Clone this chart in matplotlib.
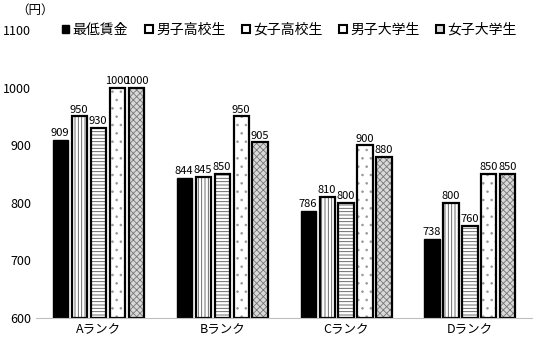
import numpy as np
import matplotlib
matplotlib.use("Agg")
import matplotlib.pyplot as plt
from matplotlib.patches import Patch

plt.rcParams['font.family'] = ['Noto Sans CJK JP', 'DejaVu Sans']
plt.rcParams['hatch.linewidth'] = 0.6

categories = ["Aランク", "Bランク", "Cランク", "Dランク"]
series = ["最低賃金", "男子高校生", "女子高校生", "男子大学生", "女子大学生"]
values = [
    [909, 844, 786, 738],
    [950, 845, 810, 800],
    [930, 850, 800, 760],
    [1000, 950, 900, 850],
    [1000, 905, 880, 850],
]

faces = ["black", "white", "white", "white", "#d9d9d9"]
hatches = [None, "|||||", "-----", "..", "xxxxx"]
hatch_colors = ["black", "#555555", "#555555", "#999999", "#777777"]

fig = plt.figure(figsize=(5.33, 3.42), dpi=100)
ax = fig.add_axes([0.068, 0.07, 0.93, 0.842])

x = np.arange(len(categories))
w = 0.122
step = 0.153
handles = []
for i, (name, vals) in enumerate(zip(series, values)):
    pos = x + (i - 2) * step
    if i == 0:
        ax.bar(pos, [v - 600 for v in vals], w, bottom=600,
               color="black", edgecolor="black")
        handles.append(Patch(facecolor="black", edgecolor="black", label=name))
    else:
        ax.bar(pos, [v - 600 for v in vals], w, bottom=600,
               color=faces[i], edgecolor=hatch_colors[i], hatch=hatches[i],
               linewidth=0)
        ax.bar(pos, [v - 600 for v in vals], w, bottom=600, fill=False,
               edgecolor="black", linewidth=1.6)
        handles.append(Patch(facecolor=faces[i], edgecolor="black",
                             linewidth=1.5, label=name))
    for p, v in zip(pos, vals):
        ax.text(p, v + 3, str(v), ha="center", va="bottom", fontsize=8)

ax.set_ylim(600, 1100)
ax.set_xlim(-0.5, 3.5)
ax.set_yticks(range(600, 1101, 100))
ax.set_xticks(x)
ax.set_xticklabels(categories)
ax.tick_params(length=0, labelsize=9)
for s in ("top", "right", "left"):
    ax.spines[s].set_visible(False)
ax.spines["bottom"].set_color("#bfbfbf")

fig.text(0.03, 0.99, "（円）", fontsize=9, va="top")
leg = ax.legend(handles=handles, loc="upper left", bbox_to_anchor=(0.04, 1.045),
                ncol=5, frameon=False, fontsize=10, handlelength=0.55,
                handleheight=0.55, handletextpad=0.25, columnspacing=1.2,
                borderaxespad=0)

fig.savefig("out.png", dpi=100)
